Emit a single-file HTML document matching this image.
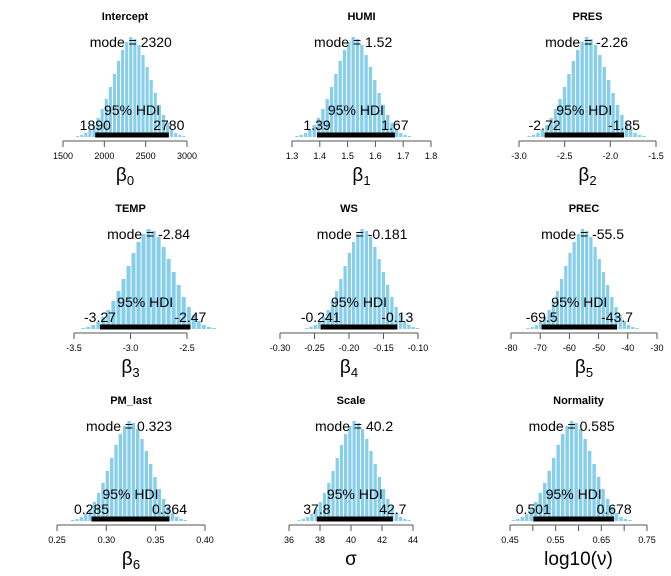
<!DOCTYPE html>
<html><head><meta charset="utf-8"><style>
body{margin:0;background:#fff;}
svg{display:block;font-family:"Liberation Sans",sans-serif;}
</style></head><body>
<svg id="c" width="671" height="576"></svg>
<script>
const titles=["Intercept","HUMI","PRES","TEMP","WS","PREC","PM_last","Scale","Normality"];
const modes=[2320,1.52,-2.26,-2.84,-0.181,-55.5,0.323,40.2,0.585];
const modeLabels=["2320","1.52","-2.26","-2.84","-0.181","-55.5","0.323","40.2","0.585"];
const hdiLo=[1890,1.39,-2.72,-3.27,-0.241,-69.5,0.285,37.8,0.501];
const hdiHi=[2780,1.67,-1.85,-2.47,-0.13,-43.7,0.364,42.7,0.678];
const hdiLoLabels=["1890","1.39","-2.72","-3.27","-0.241","-69.5","0.285","37.8","0.501"];
const hdiHiLabels=["2780","1.67","-1.85","-2.47","-0.13","-43.7","0.364","42.7","0.678"];
const ticks=[[1500,2000,2500,3000],[1.3,1.4,1.5,1.6,1.7,1.8],[-3.0,-2.5,-2.0,-1.5],[-3.5,-3.0,-2.5],[-0.30,-0.25,-0.20,-0.15,-0.10],[-80,-70,-60,-50,-40,-30],[0.25,0.30,0.35,0.40],[36,38,40,42,44],[0.45,0.50,0.55,0.60,0.65,0.70,0.75]];
const tickLabels=[["1500","2000","2500","3000"],["1.3","1.4","1.5","1.6","1.7","1.8"],["-3.0","-2.5","-2.0","-1.5"],["-3.5","-3.0","-2.5"],["-0.30","-0.25","-0.20","-0.15","-0.10"],["-80","-70","-60","-50","-40","-30"],["0.25","0.30","0.35","0.40"],["36","38","40","42","44"],["0.45","","0.55","","0.65","","0.75"]];
const density=[0.01,0.02,0.04,0.07,0.12,0.19,0.28,0.38,0.50,0.63,0.76,0.87,0.95,1.0,0.98,0.92,0.82,0.70,0.57,0.44,0.32,0.22,0.14,0.08,0.04,0.02,0.01];
const xlabels=[["β","0"],["β","1"],["β","2"],["β","3"],["β","4"],["β","5"],["β","6"],["σ",""],["log10(ν)",""]];
// layout
const axPx=[[63,187],[292,431],[519,656],[74,187],[280,418],[511,657],[57,205],[289,413],[510,647]];
const rowY=[{t:16,b:137,a:141},{t:208,b:329,a:333},{t:400,b:521,a:525}];
const svg=document.getElementById('c');
const NS="http://www.w3.org/2000/svg";
function mk(tag,at,parent){const e=document.createElementNS(NS,tag);for(const k in at)e.setAttribute(k,at[k]);(parent||svg).appendChild(e);return e;}
for(let p=0;p<9;p++){
  const r=rowY[Math.floor(p/3)];
  const tk=ticks[p];
  const x0=tk[0],x1=tk[tk.length-1];
  const sx=v=>axPx[p][0]+(v-x0)/(x1-x0)*(axPx[p][1]-axPx[p][0]);
  const g=mk('g',{});
  
  
  const cx=(axPx[p][0]+axPx[p][1])/2;
  const t=mk('text',{x:cx,y:r.t+4,'text-anchor':'middle','font-size':'11','font-weight':'bold'},g);
  t.textContent=titles[p];
  
  
  const bw=(hdiHi[p]-hdiLo[p])/18;
  const start=modes[p]-13*bw;
  for(let i=0;i<density.length;i++){
    const c=start+i*bw;
    const h=density[i]*100;
    const xa=sx(c-bw/2),xb=sx(c+bw/2);
    const b=mk('rect',{x:xa+0.5,y:r.b-h,width:Math.max(xb-xa-1,0.5),height:h,fill:'#87ceeb'},g);
    
    
  }
  const hb=mk('line',{x1:sx(hdiLo[p]),x2:sx(hdiHi[p]),y1:r.b-2,y2:r.b-2,stroke:'#000','stroke-width':5},g);
  
  
  const hl=mk('text',{x:(sx(hdiLo[p])+sx(hdiHi[p]))/2,y:r.b-22,'text-anchor':'middle','font-size':'14'},g);
  hl.textContent='95% HDI';
  
  
  const l1=mk('text',{x:sx(hdiLo[p]),y:r.b-7,'text-anchor':'middle','font-size':'14'},g);
  l1.textContent=hdiLoLabels[p];
  
  
  const l2=mk('text',{x:sx(hdiHi[p]),y:r.b-7,'text-anchor':'middle','font-size':'14'},g);
  l2.textContent=hdiHiLabels[p];
  
  
  const m=mk('text',{x:sx(modes[p]),y:r.b-90,'text-anchor':'middle','font-size':'14'},g);
  m.textContent='mode = '+modeLabels[p];
  
  
  const ax=mk('line',{x1:sx(x0),x2:sx(x1),y1:r.a,y2:r.a,stroke:'#555','stroke-width':1},g);
  
  
  for(let i=0;i<tk.length;i++){
    mk('line',{x1:sx(tk[i]),x2:sx(tk[i]),y1:r.a,y2:r.a+6,stroke:'#555'},g);
    const tl=mk('text',{x:sx(tk[i]),y:r.a+18,'text-anchor':'middle','font-size':'9'},g);
    tl.textContent=tickLabels[p][i];
    
    
  }
  const xl=mk('text',{x:cx,y:r.a+40,'text-anchor':'middle','font-size':'19'},g);
  xl.textContent=xlabels[p][0];
  if(xlabels[p][1]){const s=mk('tspan',{'font-size':'13',dy:'4'},xl);s.textContent=xlabels[p][1];}
  
  
}
</script>
</body></html>
